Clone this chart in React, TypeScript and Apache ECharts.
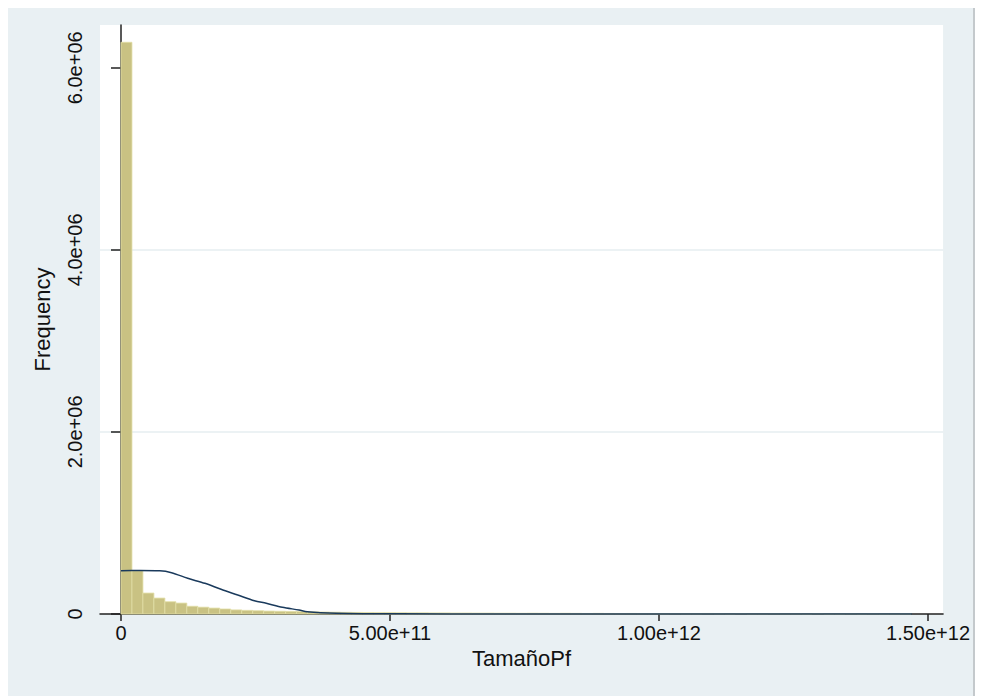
import React, { useEffect, useRef } from "react";
import * as echarts from "echarts";

// Histogram bins (uniform width, starting at 0)
const binWidth = 2.04e10;
const binCounts = [
  6280000, 475000, 230000, 175000, 135000, 120000, 85000, 75000, 65000, 55000,
  45000, 40000, 36000, 32000, 30000, 28000, 26000, 24000, 22000, 20000,
  18000, 17000, 16000, 15000, 15000, 14000, 13000, 13000, 12000, 12000,
  11000, 11000, 10000, 10000, 9000, 9000, 8000, 9000, 8000, 7000,
  8000, 7000, 6000, 7000, 6000, 5000, 6000, 5000, 5000, 4000,
  5000, 4000, 4000, 6000, 4000, 3000, 5000, 3000, 3000, 4000,
  3000, 3000, 2000, 4000, 2000, 2000, 3000, 2000, 3000, 2000,
  2000, 3000,
];

// Normal density overlay
const curveX = [0, 3.5e10, 7.2e10, 9.4e10, 1.24e11, 1.56e11, 1.86e11, 2.17e11, 2.48e11, 2.7e11, 3.0e11, 3.31e11, 3.46e11, 4.0e11, 5.17e11, 7.0e11, 1.0e12, 1.47e12];
const curveY = [476000, 478000, 475000, 454000, 392000, 337000, 271000, 209000, 146000, 118000, 74000, 44000, 25000, 9000, 1500, 0, 0, 0];

const xTickValues = [0, 5e11, 1e12, 1.5e12];
const xTickLabels = ["0", "5.00e+11", "1.00e+12", "1.50e+12"];
const yTickValues = [0, 2e6, 4e6, 6e6];
const yTickLabels = ["0", "2.0e+06", "4.0e+06", "6.0e+06"];

export default function App() {
  const ref = useRef<HTMLDivElement>(null);
  useEffect(() => {
    if (!ref.current) return;
    const chart = echarts.init(ref.current, undefined, { renderer: "svg" });
    const font = "'Liberation Sans', Arial, sans-serif";
    const bars = binCounts.map((c, i) => [i * binWidth, (i + 1) * binWidth, c]);
    const curve = curveX.map((x, i) => [x, curveY[i]]);
    chart.setOption({
      animation: false,
      backgroundColor: "#e9f0f3",
      grid: {
        left: 92,
        top: 17,
        right: 27,
        bottom: 82,
        show: true,
        backgroundColor: "#ffffff",
        borderWidth: 0,
      },
      xAxis: {
        type: "value",
        min: -3.9e10,
        max: 1.528e12,
        name: "TamañoPf",
        nameLocation: "middle",
        nameGap: 30,
        nameTextStyle: { color: "#111", fontSize: 22, fontFamily: font },
        axisLine: { show: true, onZero: false, lineStyle: { color: "#222", width: 1.5 } },
        axisTick: { show: true, length: 7, customValues: xTickValues, lineStyle: { color: "#222", width: 1.5 } },
        axisLabel: {
          customValues: xTickValues,
          margin: 9,
          color: "#111",
          fontSize: 20,
          fontFamily: font,
          formatter: (v: number) => {
            const i = xTickValues.indexOf(v);
            return i >= 0 ? xTickLabels[i] : "";
          },
        },
        splitLine: { show: false },
      },
      yAxis: {
        type: "value",
        min: 0,
        max: 6.47e6,
        interval: 2e6,
        name: "Frequency",
        nameLocation: "middle",
        nameGap: 47,
        nameTextStyle: { color: "#111", fontSize: 22, fontFamily: font },
        axisLine: { show: true, lineStyle: { color: "#222", width: 1.5 } },
        axisTick: { show: true, length: 10, customValues: yTickValues, lineStyle: { color: "#222", width: 1.5 } },
        axisLabel: {
          customValues: yTickValues,
          rotate: 90,
          margin: 15,
          color: "#111",
          fontSize: 20,
          fontFamily: font,
          formatter: (v: number) => {
            const i = yTickValues.indexOf(v);
            return i >= 0 ? yTickLabels[i] : "";
          },
        },
        splitLine: {
          show: true,
          showMinLine: false,
          showMaxLine: false,
          lineStyle: { color: "#e6eef1", width: 1.5 },
        },
      },
      series: [
        {
          type: "custom",
          data: bars,
          encode: { x: [0, 1], y: 2 },
          z: 2,
          renderItem: (params: any, api: any) => {
            const x0 = api.value(0);
            const x1 = api.value(1);
            const y = api.value(2);
            const p0 = api.coord([x0, y]);
            const p1 = api.coord([x1, 0]);
            return {
              type: "rect",
              shape: { x: p0[0], y: p0[1], width: p1[0] - p0[0], height: p1[1] - p0[1] },
              style: { fill: "#c9c283", stroke: "#e2dea6", lineWidth: 0.8 },
            };
          },
        },
        {
          type: "line",
          data: curve,
          showSymbol: false,
          smooth: 0.3,
          z: 5,
          lineStyle: { color: "#1a3a5c", width: 1.5 },
          itemStyle: { color: "#1a3a5c" },
        },
      ],
    });
    return () => chart.dispose();
  }, []);
  return (
    <div style={{ position: "absolute", left: 0, top: 0, width: 982, height: 696, background: "#ffffff", overflow: "hidden" }}>
      <div ref={ref} style={{ position: "absolute", left: 8, top: 8, width: 965, height: 688 }} />
      <div style={{ position: "absolute", left: 973, top: 8, width: 2, height: 688, background: "#c4c9cc" }} />
    </div>
  );
}
